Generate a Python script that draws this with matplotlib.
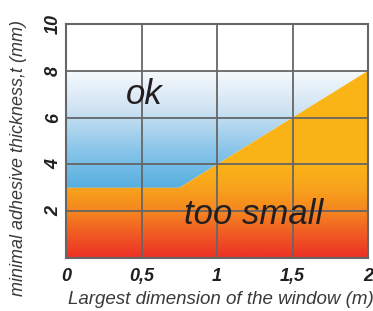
import numpy as np
import matplotlib.pyplot as plt
from matplotlib.colors import LinearSegmentedColormap

plt.rcParams['font.family'] = ['Liberation Sans', 'DejaVu Sans']

# boundary between "ok" and "too small"
limit_x = [0, 0.75, 2]
limit_t = [3, 3, 8]
x_ticks = [0, 0.5, 1, 1.5, 2]
x_labels = ['0', '0,5', '1', '1,5', '2']
y_ticks = [2, 4, 6, 8, 10]
y_labels = ['2', '4', '6', '8', '10']

fig = plt.figure(figsize=(3.73, 3.11), dpi=100)
ax = fig.add_axes([66 / 373, 53 / 311, 302 / 373, 234 / 311])
ax.set_xlim(0, 2)
ax.set_ylim(0, 10)

# blue gradient for the ok zone (white at t=8, blue at t=3)
blue = LinearSegmentedColormap.from_list('b', ['#56aee0', '#8cc6ea', '#cfe3f3', '#f7fafd'])
ok_poly = ax.fill_between(limit_x, limit_t, 8, color='none', lw=0)
im1 = ax.imshow(np.linspace(0, 1, 256).reshape(-1, 1), cmap=blue, origin='lower',
                extent=[0, 2, 3, 8], aspect='auto', zorder=1)
im1.set_clip_path(ok_poly.get_paths()[0], transform=ax.transData)

# orange/red gradient for the too small zone
warm = LinearSegmentedColormap.from_list('w', [(0, '#ec3024'), (0.125, '#f15a24'),
                                               (0.25, '#f5861f'), (0.375, '#f8a41c'),
                                               (0.5, '#fab316'), (1, '#fbb516')])
small_poly = ax.fill_between(limit_x, 0, limit_t, color='none', lw=0)
im2 = ax.imshow(np.linspace(0, 1, 256).reshape(-1, 1), cmap=warm, origin='lower',
                extent=[0, 2, 0, 8], aspect='auto', zorder=1)
im2.set_clip_path(small_poly.get_paths()[0], transform=ax.transData)

for xv in x_ticks[1:-1]:
    ax.axvline(xv, color='#666666', lw=1.3, zorder=2)
for yv in y_ticks[:-1]:
    ax.axhline(yv, color='#666666', lw=1.3, zorder=2)
for s in ax.spines.values():
    s.set_color('#666666')
    s.set_linewidth(1.5)
    s.set_zorder(3)

ax.set_xticks(x_ticks, x_labels)
ax.set_yticks(y_ticks, y_labels)
ax.tick_params(length=0, labelsize=13, colors='#231f20')
ax.tick_params(axis='x', pad=7)
ax.tick_params(axis='y', pad=3)
for lab in ax.get_xticklabels() + ax.get_yticklabels():
    lab.set_fontweight('bold')
    lab.set_fontstyle('italic')
for lab in ax.get_yticklabels():
    lab.set_rotation(90)
    lab.set_va('center')

ax.text(0.52, 7.0, 'ok', fontsize=25, style='italic', color='#231f20',
        ha='center', va='center', zorder=4)
ax.text(1.245, 1.85, 'too small', fontsize=25, style='italic', color='#231f20',
        ha='center', va='center', zorder=4)

fig.text(68 / 373, 12 / 311, 'Largest dimension of the window (m)', fontsize=13.5,
         style='italic', color='#3a3a3a', ha='left', va='center')
fig.text(19 / 373, 153 / 311, 'minimal adhesive thickness,t (mm)', fontsize=13,
         style='italic', color='#3a3a3a', rotation=90, ha='center', va='center')

fig.savefig('out.png', dpi=100)
